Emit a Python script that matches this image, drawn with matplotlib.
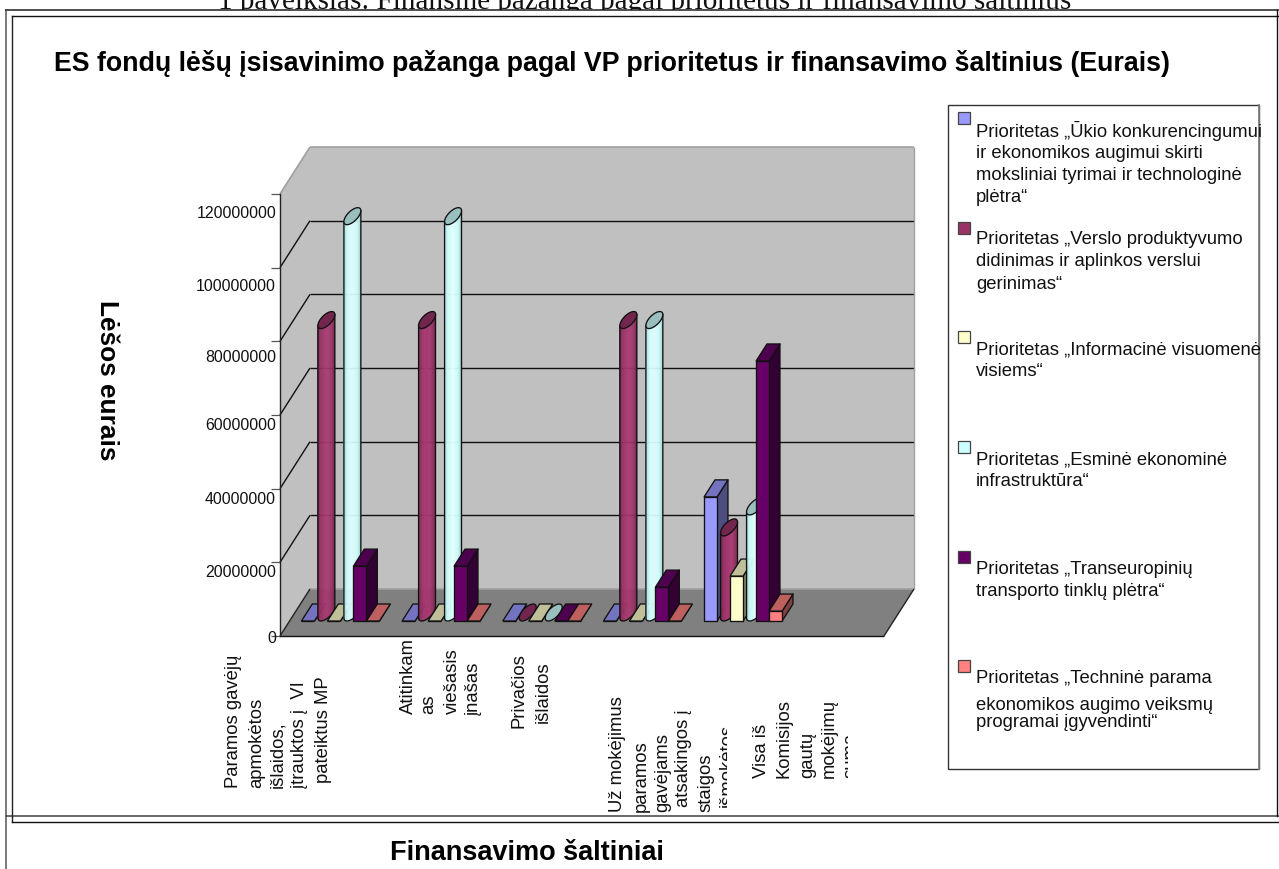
import numpy as np
import matplotlib
matplotlib.use("Agg")
import matplotlib.pyplot as plt
from matplotlib.patches import Polygon, Rectangle

plt.rcParams["font.family"] = ["Liberation Sans", "DejaVu Sans"]

# values (euros), last slot of the category axis is empty
blue = [0, 0, 0, 0, 33.7e6, 0]
maroon = [79.4e6, 79.4e6, 0, 79.4e6, 23.1e6, 0]
yellow = [0, 0, 0, 0, 12.2e6, 0]
cyan = [107.6e6, 107.6e6, 0, 79.4e6, 28.8e6, 0]
purple = [14.9e6, 14.9e6, 0, 9.2e6, 70.6e6, 0]
red = [0, 0, 0, 0, 2.7e6, 0]

series = [
    (blue, "#9999FF", "box"),
    (maroon, "#993366", "cyl"),
    (yellow, "#FFFFCC", "box"),
    (cyan, "#CCFFFF", "cyl"),
    (purple, "#660066", "box"),
    (red, "#FF8080", "box"),
]

y_ticks = [0, 20000000, 40000000, 60000000, 80000000, 100000000, 120000000]
y_tick_shift = [2, 9, 10, 10, 15, 18, 18]

cat_lines = [
    ["Paramos gavėjų", "apmokėtos", "išlaidos,", "įtrauktos į  VI", "pateiktus MP"],
    ["Atitinkam", "as", "viešasis", "įnašas"],
    ["Privačios", "išlaidos"],
    ["Už mokėjimus", "paramos", "gavėjams", "atsakingos į", "staigos", "išmokėtos"],
    ["Visa iš", "Komisijos", "gautų", "mokėjimų", "suma"],
]
cat_x = [
    [234, 257, 278, 299, 323],
    [408, 429, 452, 473],
    [519, 543],
    [618, 641, 663, 684, 706, 727],
    [762, 784, 808, 829, 851],
]
cat_bottom = [
    [788, 788, 788, 788, 783],
    [714, 714, 714, 715],
    [728, 723],
    [812, 812, 812, 807, 812, 807],
    [778, 778, 778, 778, 778],
]
cat_clip = [None, None, None, 727, 848]

legend_lines = [
    ["Prioritetas „Ūkio konkurencingumui", "ir ekonomikos augimui skirti",
     "moksliniai tyrimai ir technologinė", "plėtra“"],
    ["Prioritetas „Verslo produktyvumo", "didinimas ir aplinkos verslui", "gerinimas“"],
    ["Prioritetas „Informacinė visuomenė", "visiems“"],
    ["Prioritetas „Esminė ekonominė", "infrastruktūra“"],
    ["Prioritetas „Transeuropinių", "transporto tinklų plėtra“"],
    ["Prioritetas „Techninė parama", "ekonomikos augimo veiksmų", "programai įgyvendinti“"],
]
legend_box_y = [113, 223, 332, 442, 552, 661]
legend_text_y = [
    [131, 153, 175, 197],
    [240, 262, 285],
    [350, 372],
    [460, 482],
    [570, 592],
    [679, 706, 723],
]

W, H = 1279, 870
fig = plt.figure(figsize=(W / 100, H / 100), dpi=100, facecolor="white")

# overlay in pixel coordinates for page frame and free text
ov = fig.add_axes([0, 0, 1, 1], zorder=1)
ov.set_xlim(0, W)
ov.set_ylim(H, 0)
ov.axis("off")


def clipped(t, x0, y0, x1, y1):
    t.set_clip_on(True)
    t.set_clip_path(Rectangle((x0, y0), x1 - x0, y1 - y0, transform=ov.transData))


top = ov.text(645, 9, "1 paveikslas: Finansinė pažanga pagal prioritetus ir finansavimo šaltinius",
              family="Liberation Serif", fontsize=21, ha="center", va="baseline", color="#111111")
clipped(top, 0, 0, W, 10.5)

ov.plot([6, 6], [11, H], color="#707070", lw=1.3)
ov.plot([6, W], [11, 11], color="#404040", lw=1.3)
ov.plot([6, W], [817, 817], color="#404040", lw=1.1)
ov.plot([12, 12], [17, 823], color="#222222", lw=1.0)
ov.plot([12, W], [17, 17], color="#111111", lw=1.0)
ov.plot([12, W], [823, 823], color="#111111", lw=1.0)
ov.plot([1277, 1277], [11, 817], color="#111111", lw=1.0)

ov.text(54, 71, "ES fondų lėšų įsisavinimo pažanga pagal VP prioritetus ir finansavimo šaltinius (Eurais)",
        fontsize=19.3, fontweight="bold", va="baseline", color="black")
ov.text(107, 380, "Lėšos eurais", fontsize=18.9, fontweight="bold", rotation=270,
        ha="center", va="center", color="black")
ov.text(390, 860, "Finansavimo šaltiniai", fontsize=19.5, fontweight="bold", va="baseline", color="black")

ov.add_patch(Rectangle((948, 106), 311, 664, facecolor="white", edgecolor="#333333", lw=1.0))
ov.plot([1259, 1259], [106, 770], color="#808080", lw=1.3)
for (vals, col, kind), lines, by, ty in zip(series, legend_lines, legend_box_y, legend_text_y):
    ov.add_patch(Rectangle((958, by), 12, 12, facecolor=col, edgecolor="#444444", lw=0.9))
    for s, yy in zip(lines, ty):
        ov.text(976, yy, s, fontsize=13.3, va="center", color="#111111")

for lines, xs, bs, cx in zip(cat_lines, cat_x, cat_bottom, cat_clip):
    for s, x, b in zip(lines, xs, bs):
        t = ov.text(x, b, s, rotation=90, fontsize=13.3, ha="center", va="bottom",
                    rotation_mode="default", color="#111111")
        if cx is not None:
            clipped(t, 0, 0, cx, H)

# chart axes: x in category slots, y in euros, front wall edge of the 3D box
ax = fig.add_axes([280 / W, (H - 637) / H, 604 / W, 442 / H], zorder=2)
ax.patch.set_alpha(0)
n_slots = len(blue)
ax.set_xlim(0, n_slots)
ax.set_ylim(0, 120e6)
for sp in ["top", "right", "bottom"]:
    ax.spines[sp].set_visible(False)
ax.spines["left"].set_linewidth(1.0)
ax.spines["left"].set_color("#222222")
ax.set_xticks([])
ax.set_yticks(y_ticks)
ax.set_yticklabels([])
ax.tick_params(axis="y", length=6.5, width=0.9, color="#555555")

# depth vector of the box, in slots and euros
DX = 30 / (604 / n_slots)
DY = 47 / (442 / 120e6)


def P(x, y, d):
    return (x + d * DX, y + d * DY)


def shade(col, f):
    rgb = np.array(matplotlib.colors.to_rgb(col)) * f
    return tuple(np.clip(rgb, 0, 1))


ymax = y_ticks[-1]
# walls and floor
ax.add_patch(Polygon([P(0, 0, 0), P(0, ymax, 0), P(0, ymax, 1), P(0, 0, 1)],
                     facecolor="#C0C0C0", edgecolor="none", zorder=1, clip_on=False))
ax.add_patch(Polygon([P(0, 0, 1), P(0, ymax, 1), P(n_slots, ymax, 1), P(n_slots, 0, 1)],
                     facecolor="#C0C0C0", edgecolor="none", zorder=1, clip_on=False))
ax.add_patch(Polygon([P(0, 0, 0), P(n_slots, 0, 0), P(n_slots, 0, 1), P(0, 0, 1)],
                     facecolor="#808080", edgecolor="none", zorder=1, clip_on=False))


def seg(a, b, color, lw=1.0):
    ax.plot([a[0], b[0]], [a[1], b[1]], color=color, lw=lw, zorder=2, clip_on=False,
            solid_capstyle="butt")


for v in y_ticks[1:-1]:
    seg(P(0, v, 0), P(0, v, 1), "#111111")
    seg(P(0, v, 1), P(n_slots, v, 1), "#111111")
seg(P(0, ymax, 0), P(0, ymax, 1), "#A0A0A0", 1.2)
seg(P(0, ymax, 1), P(n_slots, ymax, 1), "#A0A0A0", 1.2)
seg(P(n_slots, ymax, 1), P(n_slots, 0, 1), "#A0A0A0", 1.0)
seg(P(0, 0, 1), P(n_slots, 0, 1), "#A0A0A0", 1.2)
seg(P(0, 0, 0), P(0, 0, 1), "#222222")
seg(P(0, 0, 0), P(n_slots, 0, 0), "#111111")
seg(P(n_slots, 0, 0), P(n_slots, 0, 1), "#222222")

BW = 13 / (604 / n_slots)
MARGIN = 0.118
D0, D1 = 15 / 47, 32 / 47
EDGE = "#111111"
LW = 0.95


def draw_box(x, v, col, z):
    side = [P(x + BW, 0, D0), P(x + BW, 0, D1), P(x + BW, v, D1), P(x + BW, v, D0)]
    front = [P(x, 0, D0), P(x + BW, 0, D0), P(x + BW, v, D0), P(x, v, D0)]
    topf = [P(x, v, D0), P(x + BW, v, D0), P(x + BW, v, D1), P(x, v, D1)]
    for pts, f in [(side, 0.5), (front, 1.0), (topf, 0.75)]:
        ax.add_patch(Polygon(pts, facecolor=shade(col, f), edgecolor=EDGE, lw=LW,
                             zorder=z, clip_on=False, joinstyle="round"))


def ell(x, v, t):
    xc = x + BW / 2
    return P(xc + BW / 2 * np.cos(t), v, 0.5 + (D1 - D0) / 2 * np.sin(t))


def draw_cyl(x, v, col, z):
    # silhouette angle, where the ellipse reaches its right extreme in pixels
    t0 = np.arctan2((D1 - D0) / 2 * 30, (BW / 2) * (604 / n_slots))
    ts = np.linspace(t0 - np.pi, t0, 25)
    if v > 0:
        for i in range(len(ts) - 1):
            u = (i + 0.5) / (len(ts) - 1)
            f = 0.80 + 0.30 * np.sin(np.pi * u) ** 2
            q = [ell(x, 0, ts[i]), ell(x, 0, ts[i + 1]), ell(x, v, ts[i + 1]), ell(x, v, ts[i])]
            c = shade(col, f)
            ax.add_patch(Polygon(q, facecolor=c, edgecolor=c, lw=0.3, zorder=z, clip_on=False))
        low = [ell(x, 0, t) for t in ts]
        outline = [ell(x, v, ts[0])] + low + [ell(x, v, ts[-1])]
        ax.plot([p[0] for p in outline], [p[1] for p in outline], color=EDGE, lw=LW,
                zorder=z, clip_on=False)
    tt = np.linspace(0, 2 * np.pi, 60)
    ax.add_patch(Polygon([ell(x, v, t) for t in tt], facecolor=shade(col, 0.75),
                         edgecolor=EDGE, lw=LW, zorder=z, clip_on=False))


z = 3
for cat in range(n_slots):
    for s, (vals, col, kind) in enumerate(series):
        x = cat + MARGIN + s * BW
        if cat == n_slots - 1:
            continue
        if kind == "box":
            draw_box(x, vals[cat], col, z)
        else:
            draw_cyl(x, vals[cat], col, z)
        z += 1

for v, dy in zip(y_ticks, y_tick_shift):
    ax.annotate(str(v), xy=(0, v), xycoords=("axes fraction", "data"),
                xytext=(-4 * 0.72, -dy * 0.72), textcoords="offset points",
                ha="right", va="center", fontsize=11.4, color="#111111", annotation_clip=False)

fig.savefig("out.png", dpi=100)
